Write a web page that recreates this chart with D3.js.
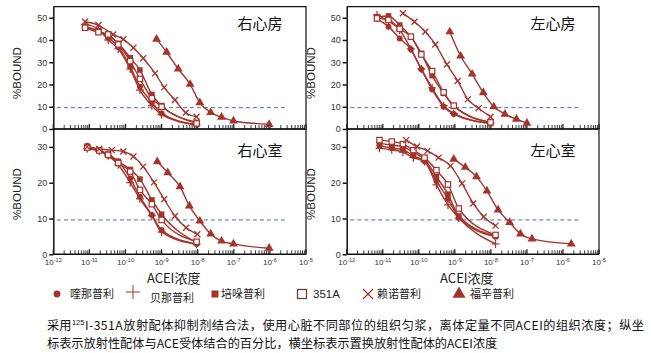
<!DOCTYPE html>
<html>
<head>
<meta charset="utf-8">
<script src="https://cdn.jsdelivr.net/npm/d3@7"></script>
<style>
body { margin: 0; background: #fff; }
svg { display: block; font-family: "Liberation Sans", Arial, sans-serif; }
.cjk { font-family: "Noto Sans CJK SC", sans-serif; }
</style>
</head>
<body>
<svg id="chart" width="651" height="353"></svg>
<script>
// drugs, in legend order
const DRUGS = ['喹那普利', '贝那普利', '培哚普利', '351A', '赖诺普利', '福辛普利'];
const PANELS = ['右心房', '左心房', '右心室', '左心室'];
const X_TICK_EXP = [-12, -11, -10, -9, -8, -7, -6, -5];
const Y_TICKS_ATRIUM = [0, 10, 20, 30, 40, 50];
const Y_TICKS_VENTRICLE = [0, 10, 20, 30];
const CUTOFF = 9.6;            // dashed reference level, %BOUND
const CUTOFF_LOGC = [-11.9, -5.5];

// concentrations are log10(M); values are %BOUND
// right atrium
const RA_LOGC = [-11.12, -10.75, -10.48, -10.2, -9.87, -9.6, -9.27, -9.0, -8.03];
const RA_QUIN = [46, 44, 41, 37, 28, 19, 12, 7, 2];
const RA_BENA = [47, 45, 40, 36, 27, 17.5, 10.5, 6.5, 1.8];
const RA_PERI = [46, 44, 42, 38.5, 32, 26.5, 15.5, 10.5, 3];
const RA_351A = [45.5, 43.5, 42.5, 38, 30.5, 22.5, 13.8, 10, 2.5];
const RA_LIS_LOGC = [-11.12, -10.75, -10.34, -10.06, -9.78, -9.51, -9.18, -8.93, -8.63, -8.33, -8.03];
const RA_LIS = [48.2, 46.7, 42.5, 40.3, 36.5, 31.8, 25, 18.7, 13, 7.3, 5.5];
const RA_FOS_LOGC = [-9.14, -8.86, -8.54, -8.21, -7.94, -7.64, -7.34, -7.01, -6.02];
const RA_FOS = [40.4, 34.5, 27, 20.1, 11.8, 7.4, 5.3, 3.6, 2.1];

// left atrium
const LA_LOGC = [-11.16, -10.84, -10.53, -10.22, -9.93, -9.63, -9.31, -9.03, -8.01];
const LA_QUIN = [49.5, 46, 40.7, 35.8, 26.8, 17.8, 10, 6.7, 2.4];
const LA_BENA = [51.2, 48.5, 44.5, 36, 27, 18.5, 10.5, 7, 2.6];
const LA_PERI = [50.5, 50.8, 46.7, 41.5, 34, 24, 16, 10.3, 2.8];
const LA_351A = [49.7, 49, 45, 41.5, 33.5, 26, 16.5, 10.5, 3];
const LA_LIS_LOGC = [-10.44, -10.12, -9.82, -9.54, -9.22, -8.92, -8.64, -8.34, -8.01];
const LA_LIS = [52, 48.2, 43.7, 38, 29, 21.6, 13.3, 9.3, 5.5];
const LA_FOS_LOGC = [-9.14, -8.84, -8.52, -8.21, -7.92, -7.61, -7.29, -7.0];
const LA_FOS = [43.7, 32.8, 24.7, 16.3, 10, 6.7, 4.4, 2.6];

// right ventricle
const RV_LOGC = [-11.06, -10.73, -10.48, -10.2, -9.87, -9.6, -9.27, -9.0, -8.03];
const RV_QUIN = [30.3, 29, 27.5, 25.9, 21.2, 16.1, 11, 6.8, 2.9];
const RV_BENA = [29.5, 28.8, 27.5, 25, 20, 15.5, 10.8, 6.2, 2.8];
const RV_PERI = [30, 29, 28, 26, 23.7, 21, 15.2, 11.2, 3.3];
const RV_351A = [29.8, 29, 27.8, 25.5, 23.1, 18, 14, 9.6, 3.5];
const RV_LIS_LOGC = [-11.06, -10.73, -10.38, -10.06, -9.78, -9.51, -9.21, -8.93, -8.63, -8.32, -8.01];
const RV_LIS = [30, 29.4, 29.1, 28.7, 27.3, 24.5, 20.1, 15.4, 10.7, 7.4, 5.6];
const RV_FOS_LOGC = [-9.12, -8.83, -8.49, -8.23, -7.94, -7.64, -7.34, -7.01, -6.02];
const RV_FOS = [25.9, 22.8, 18.9, 13.5, 9.3, 5.7, 3.7, 2.9, 1.7];

// left ventricle
const LV_LOGC = [-11.09, -10.75, -10.44, -10.15, -9.84, -9.51, -9.19, -8.89, -7.87];
const LV_QUIN = [30.3, 29.7, 29.2, 27.5, 26, 20.5, 15.5, 10.2, 4.9];
const LV_BENA = [29.6, 29.2, 28.5, 27, 25.9, 19.4, 13.8, 10.1, 2.9];
const LV_PERI = [31, 30.5, 30, 28.5, 26.5, 21.7, 16.8, 10.7, 5.2];
const LV_351A = [31.9, 31.5, 30.8, 29.1, 27, 23.5, 19.5, 12.8, 5.4];
const LV_LIS_LOGC = [-10.35, -10.05, -9.76, -9.45, -9.12, -8.8, -8.49, -8.2, -7.87];
const LV_LIS = [31.9, 30.1, 28.9, 27, 24.7, 19.8, 14.2, 10.5, 8];
const LV_FOS_LOGC = [-9.03, -8.71, -8.4, -8.11, -7.8, -7.48, -7.18, -6.86, -5.77];
const LV_FOS = [26.6, 24.3, 21.7, 17.7, 12.4, 8.9, 5.7, 4.3, 2.9];

const CAPTION_1 = ['采用', '125', 'I-351A放射配体抑制剂结合法，使用心脏不同部位的组织匀浆，离体定量不同ACEI的组织浓度；纵坐'];
const CAPTION_2 = '标表示放射性配体与ACE受体结合的百分比，横坐标表示置换放射性配体的ACEI浓度';

const RED = '#a3342b';
const svg = d3.select('#chart');

function series(logc, vals) {
	return logc.map((c, i) => ({ c: Math.pow(10, c), v: vals[i] }));
}

const panelData = [
	[series(RA_LOGC, RA_QUIN), series(RA_LOGC, RA_BENA), series(RA_LOGC, RA_PERI), series(RA_LOGC, RA_351A), series(RA_LIS_LOGC, RA_LIS), series(RA_FOS_LOGC, RA_FOS)],
	[series(LA_LOGC, LA_QUIN), series(LA_LOGC, LA_BENA), series(LA_LOGC, LA_PERI), series(LA_LOGC, LA_351A), series(LA_LIS_LOGC, LA_LIS), series(LA_FOS_LOGC, LA_FOS)],
	[series(RV_LOGC, RV_QUIN), series(RV_LOGC, RV_BENA), series(RV_LOGC, RV_PERI), series(RV_LOGC, RV_351A), series(RV_LIS_LOGC, RV_LIS), series(RV_FOS_LOGC, RV_FOS)],
	[series(LV_LOGC, LV_QUIN), series(LV_LOGC, LV_BENA), series(LV_LOGC, LV_PERI), series(LV_LOGC, LV_351A), series(LV_LIS_LOGC, LV_LIS), series(LV_FOS_LOGC, LV_FOS)]
];

// marker drawing, one per drug
function marker(g, k, s) {
	s = s || 1;
	const line = (x1, y1, x2, y2, w) => g.append('line').attr('x1', x1 * s).attr('y1', y1 * s).attr('x2', x2 * s).attr('y2', y2 * s)
		.attr('stroke', RED).attr('stroke-width', w);
	if (k == 0) g.append('circle').attr('r', 3 * s).attr('fill', RED);
	else if (k == 1) { line(-4, 0, 4, 0, 1.2); line(0, -4, 0, 4, 1.2); }
	else if (k == 2) g.append('rect').attr('x', -2.8 * s).attr('y', -2.8 * s).attr('width', 5.6 * s).attr('height', 5.6 * s).attr('fill', RED);
	else if (k == 3) g.append('rect').attr('x', -2.7 * s).attr('y', -2.7 * s).attr('width', 5.4 * s).attr('height', 5.4 * s)
		.attr('fill', '#fff').attr('stroke', RED).attr('stroke-width', 1.2);
	else if (k == 4) { line(-3, -3, 3, 3, 1.3); line(-3, 3, 3, -3, 1.3); }
	else g.append('path').attr('d', d3.symbol(d3.symbolTriangle, 34 * s * s)()).attr('fill', RED);
}

function superTick(t, base, exp, size) {
	t.append('tspan').text(base);
	t.append('tspan').attr('font-size', size * 0.7).attr('dy', -size * 0.4).text(exp);
}

function drawPanel(idx) {
	const col = idx % 2, row = Math.floor(idx / 2);
	const x0 = col ? 346.7 : 53.3, x1 = col ? 599 : 306;
	const yTop = row ? 129 : 6.6, yBot = row ? 254.3 : 129;
	const yMax = row ? 35 : 55;
	const g = svg.append('g');

	const x = d3.scaleLog().domain([1e-12, 1e-5]).range([x0, x1]);
	const y = d3.scaleLinear().domain([0, yMax]).range([yBot, yTop]);

	// frame: top and right border
	g.append('path').attr('d', `M${x0},${yTop}H${x1}V${yBot}`).attr('fill', 'none').attr('stroke', '#111').attr('stroke-width', 1.2);

	// y axis
	const ya = g.append('g').attr('transform', `translate(${x0},0)`)
		.call(d3.axisLeft(y).tickValues(row ? Y_TICKS_VENTRICLE : Y_TICKS_ATRIUM).tickSize(4).tickPadding(2).tickSizeOuter(0));
	ya.select('.domain').attr('stroke', '#111').attr('stroke-width', 1.5);
	ya.selectAll('.tick line').attr('stroke', '#111').attr('stroke-width', 1.5);
	ya.selectAll('.tick text').attr('font-size', 9).attr('fill', '#333').attr('font-family', 'Liberation Sans, Arial, sans-serif');

	// x axis with log minor ticks pointing inward
	const minors = [];
	X_TICK_EXP.forEach(e => { for (let m = 1; m < 10; m++) if (e < -5 || m == 1) minors.push({ c: m * Math.pow(10, e), major: m == 1 }); });
	g.append('line').attr('x1', x0).attr('x2', x1).attr('y1', yBot).attr('y2', yBot).attr('stroke', '#111').attr('stroke-width', 1.5);
	g.selectAll('.minor').data(minors).enter().append('line')
		.attr('x1', d => x(d.c)).attr('x2', d => x(d.c))
		.attr('y1', yBot).attr('y2', d => yBot - (d.major ? 5 : 4))
		.attr('stroke', '#222').attr('stroke-width', d => d.major ? 1.3 : 0.9);

	if (row) {
		const lab = g.selectAll('.xl').data(X_TICK_EXP).enter().append('text')
			.attr('x', e => x(Math.pow(10, e))).attr('y', 265)
			.attr('text-anchor', 'middle').attr('font-size', 8).attr('fill', '#333');
		lab.each(function (e) { superTick(d3.select(this), '10', String(e), 8); });
		g.append('text').attr('class', 'cjk').attr('x', (x0 + x1) / 2 - 6).attr('y', 283)
			.attr('text-anchor', 'middle').attr('font-size', 13).attr('fill', '#222')
			.text('ACEI浓度');
	}

	g.append('text').attr('transform', `translate(${x0 - 32},${row ? 194 : 73}) rotate(-90)`)
		.attr('text-anchor', 'middle').attr('font-size', 11.5).attr('fill', '#222').text('%BOUND');

	g.append('text').attr('class', 'cjk').attr('x', x1 - 46).attr('y', row ? 156 : 29)
		.attr('text-anchor', 'middle').attr('font-size', 15).attr('fill', '#111').text(PANELS[idx]);

	// dashed reference line
	g.append('line').attr('x1', x(Math.pow(10, CUTOFF_LOGC[0]))).attr('x2', x(Math.pow(10, CUTOFF_LOGC[1])))
		.attr('y1', y(CUTOFF)).attr('y2', y(CUTOFF))
		.attr('stroke', '#4b6fa8').attr('stroke-width', 1).attr('stroke-dasharray', '4,3');

	const lineGen = d3.line().x(d => x(d.c)).y(d => y(d.v)).curve(d3.curveMonotoneX);
	panelData[idx].forEach((s, k) => {
		g.append('path').attr('d', lineGen(s)).attr('fill', 'none').attr('stroke', RED).attr('stroke-width', 1.4);
	});
	panelData[idx].forEach((s, k) => {
		s.forEach(d => marker(g.append('g').attr('transform', `translate(${x(d.c)},${y(d.v)})`), k));
	});
}

PANELS.forEach((p, i) => drawPanel(i));

// legend
const LEG_X = [57, 133, 215, 302, 368, 459];
const LEG_TX = [70, 150, 221, 313, 377, 470];
const legend = svg.append('g');
DRUGS.forEach((name, k) => {
	const m = legend.append('g').attr('transform', `translate(${LEG_X[k]},${k == 1 ? 292 : 294})`);
	if (k == 1) {
		m.append('line').attr('x1', -7).attr('x2', 7).attr('stroke', RED).attr('stroke-width', 1);
		m.append('line').attr('y1', -7).attr('y2', 7).attr('stroke', RED).attr('stroke-width', 1);
	} else if (k == 4) {
		m.append('line').attr('x1', -5).attr('y1', -5).attr('x2', 5).attr('y2', 5).attr('stroke', RED).attr('stroke-width', 1.3);
		m.append('line').attr('x1', -5).attr('y1', 5).attr('x2', 5).attr('y2', -5).attr('stroke', RED).attr('stroke-width', 1.3);
	} else if (k == 3) {
		m.append('rect').attr('x', -4.5).attr('y', -4.5).attr('width', 9).attr('height', 9)
			.attr('fill', '#fff').attr('stroke', '#7a3a30').attr('stroke-width', 1.3);
	} else if (k == 5) {
		m.append('path').attr('d', d3.symbol(d3.symbolTriangle, 75)()).attr('fill', RED);
	} else marker(m, k, k == 0 ? 1.15 : 1.25);
	legend.append('text').attr('class', name == '351A' ? null : 'cjk')
		.attr('x', LEG_TX[k]).attr('y', k == 1 ? 302 : 298)
		.attr('font-size', name == '351A' ? 11.5 : 11).attr('fill', '#222').text(name);
});

// caption: three pieces on line 1 so the superscript sits as its own text
const capX = 47, capY = 330, capSize = 12.2;
const c1 = svg.append('text').attr('class', 'cjk').attr('x', capX).attr('y', capY)
	.attr('font-size', capSize).attr('fill', '#111').text(CAPTION_1[0]);
let cx = capX + c1.node().getComputedTextLength();
const c2 = svg.append('text').attr('x', cx + 0.5).attr('y', capY - 5)
	.attr('font-size', 7.5).attr('fill', '#111').text(CAPTION_1[1]);
cx += c2.node().getComputedTextLength() + 1;
const c3 = svg.append('text').attr('class', 'cjk').attr('x', cx).attr('y', capY)
	.attr('font-size', capSize).attr('fill', '#111').text(CAPTION_1[2]);
// stretch line 1 to end where the reference line ends
c3.attr('textLength', 644 - cx).attr('lengthAdjust', 'spacing');
svg.append('text').attr('class', 'cjk').attr('x', capX).attr('y', capY + 18)
	.attr('font-size', capSize).attr('fill', '#111').text(CAPTION_2);
</script>
</body>
</html>
